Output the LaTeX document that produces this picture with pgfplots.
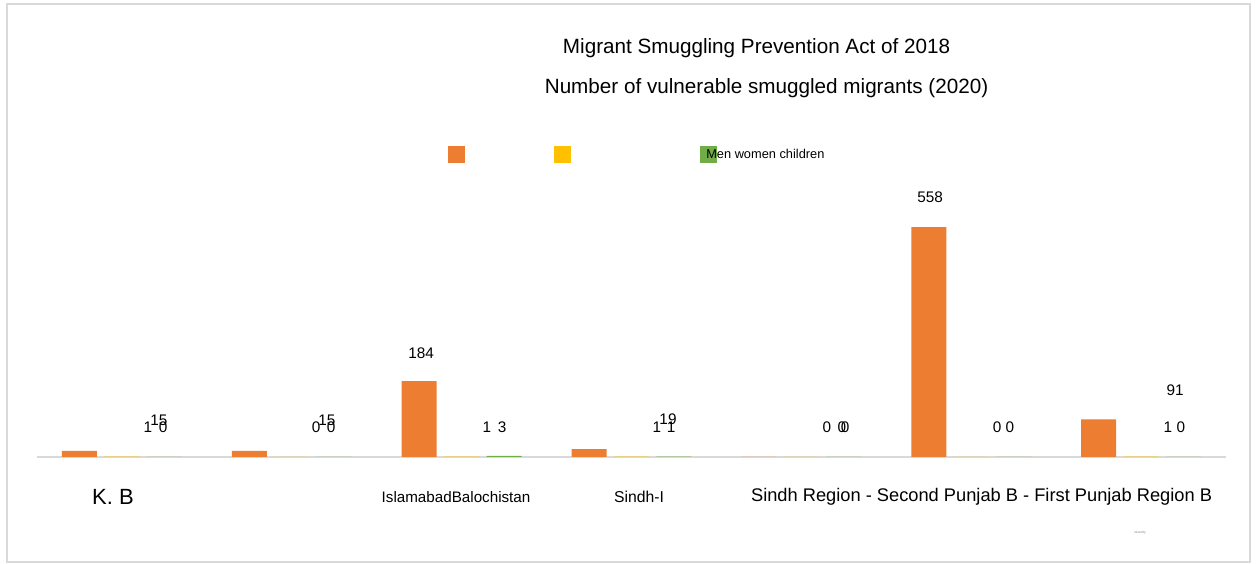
\documentclass[border=0pt]{standalone}
\usepackage{pgfplots}
\pgfplotsset{compat=1.18}
\usepackage{fontspec}
\setmainfont{Liberation Sans}
\definecolor{cmen}{HTML}{ED7D31}
\definecolor{cwomen}{HTML}{FFC000}
\definecolor{cchild}{HTML}{70AD47}
\definecolor{cframe}{HTML}{D9D9D9}
\begin{document}
\begin{tikzpicture}
\useasboundingbox (0,0) rectangle (942.75pt,423pt);
\draw[cframe, line width=1.2pt] (5.25pt,1.5pt) rectangle (937.5pt,420pt);
\node[font=\fontsize{15.5pt}{18pt}\selectfont, inner sep=0pt] at (567.4pt,387pt) {Migrant Smuggling Prevention Act of 2018};
\node[font=\fontsize{15.5pt}{18pt}\selectfont, inner sep=0pt] at (574.9pt,357pt) {Number of vulnerable smuggled migrants (2020)};
\node[font=\fontsize{2.5pt}{3pt}\selectfont, text=gray, inner sep=0pt] at (855pt,23.25pt) {security};
\begin{axis}[
  at={(27.75pt,80.25pt)}, anchor=south west,
  scale only axis, width=891.75pt, height=216.4pt,
  xmin=0, xmax=7, ymin=0, ymax=700,
  axis x line=bottom, axis y line=none,
  x axis line style={-, draw=cframe, line width=0.9pt},
  xtick={0.447,2.467,3.544,5.561},
  xticklabels={{\fontsize{16.5pt}{18pt}\selectfont K. B},
               {\fontsize{11.4pt}{13pt}\selectfont IslamabadBalochistan},
               {\fontsize{11.8pt}{13pt}\selectfont Sindh-I},
               {\fontsize{13.7pt}{15pt}\selectfont Sindh Region - Second Punjab B - First Punjab Region B}},
  major tick length=0pt,
  xtick style={draw=none},
  xticklabel style={anchor=center, yshift=-30pt, inner sep=0pt},
  clip=false,
  legend columns=3,
  legend style={at={(0.3457,1.0485)}, anchor=west, draw=none, fill=none,
    inner sep=0pt, column sep=0pt, row sep=0pt,
    nodes={inner sep=0pt, anchor=west}},
  legend image code/.code={\fill[#1, draw=none] (0pt,-6.375pt) rectangle (12.75pt,6.375pt);},
  every node near coord/.append style={font=\fontsize{11.5pt}{13pt}\selectfont, anchor=center, inner sep=0pt},
]
\addplot[ybar, bar width=0.206, bar shift=0pt, fill=cmen, draw=none]
  coordinates {(0.25,15) (1.25,15) (2.25,184) (3.25,19) (4.25,0) (5.25,558) (6.25,91)};
\addlegendentry{\hspace*{66.75pt}}
\addplot[ybar, bar width=0.206, bar shift=0pt, fill=cwomen, draw=none]
  coordinates {(0.5,1) (1.5,0) (2.5,1) (3.5,1) (4.5,0) (5.5,0) (6.5,1)};
\addlegendentry{\hspace*{96.75pt}}
\addplot[ybar, bar width=0.206, bar shift=0pt, fill=cchild, draw=none]
  coordinates {(0.75,0) (1.75,0) (2.75,3) (3.75,1) (4.75,0) (5.75,0) (6.75,0)};
\addlegendentry{\hspace*{-8.25pt}\fontsize{9.6pt}{11pt}\selectfont Men women children}
% data labels
\addplot[forget plot, draw=none, mark=none, nodes near coords, point meta=explicit symbolic]
  coordinates {(0.718,88) [15] (1.707,88) [15] (2.261,252) [184] (3.715,92) [19] (4.757,71.6) [0] (5.258,630) [558] (6.70,162.5) [91]};
\addplot[forget plot, draw=none, mark=none, nodes near coords, point meta=explicit symbolic]
  coordinates {(0.653,71.6) [1] (1.643,71.6) [0] (2.649,71.6) [1] (3.650,71.6) [1] (4.651,71.6) [0] (5.652,71.6) [0] (6.658,71.6) [1]};
\addplot[forget plot, draw=none, mark=none, nodes near coords, point meta=explicit symbolic]
  coordinates {(0.742,71.6) [0] (1.731,71.6) [0] (2.738,71.6) [3] (3.733,71.6) [1] (4.739,71.6) [0] (5.728,71.6) [0] (6.735,71.6) [0]};
\end{axis}
\end{tikzpicture}
\end{document}
